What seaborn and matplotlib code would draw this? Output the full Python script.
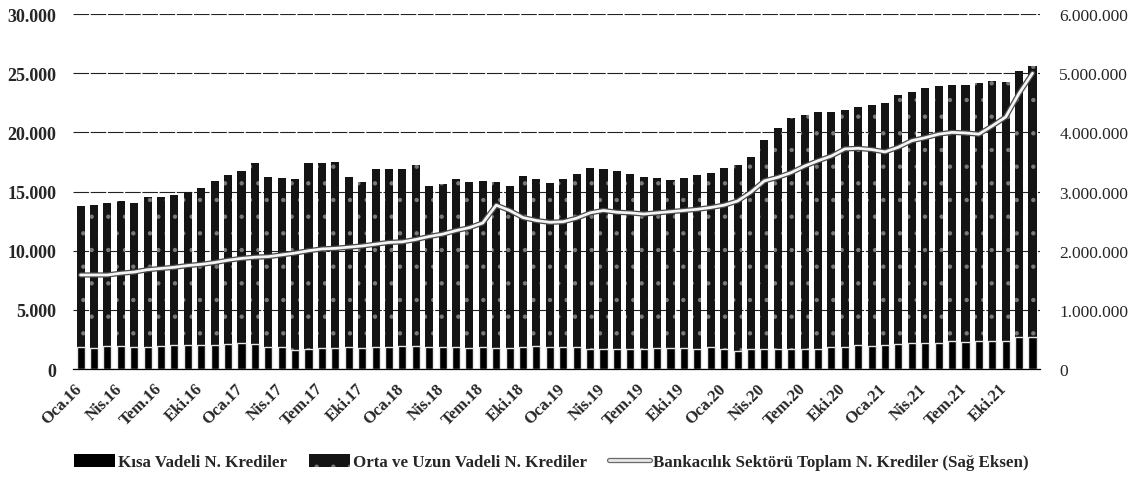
import matplotlib
matplotlib.use("Agg")
import matplotlib.pyplot as plt
import matplotlib.patheffects as pe
from matplotlib.patches import Patch
from matplotlib.lines import Line2D
from matplotlib.ticker import FuncFormatter, FixedLocator
import seaborn as sns
import pandas as pd
import numpy as np

# ---------------- data ----------------
months_tr = ["Oca", "Şub", "Mar", "Nis", "May", "Haz", "Tem", "Ağu", "Eyl", "Eki", "Kas", "Ara"]
years = ["16", "17", "18", "19", "20", "21"]
periods = [f"{m}.{y}" for y in years for m in months_tr]

# Kısa Vadeli N. Krediler (left axis)
kisa = [1830, 1780, 1940, 1940, 1890, 1890, 1940, 2000, 2060, 2060, 2060, 2100,
        2170, 2100, 1890, 1890, 1600, 1690, 1740, 1780, 1830, 1780, 1830, 1830,
        1940, 1940, 1830, 1890, 1830, 1780, 1890, 1780, 1780, 1890, 1940, 1890,
        1890, 1830, 1720, 1720, 1720, 1720, 1720, 1780, 1780, 1780, 1720, 1830,
        1660, 1550, 1660, 1720, 1720, 1660, 1720, 1720, 1830, 1830, 2060, 1940,
        2060, 2100, 2170, 2170, 2170, 2340, 2250, 2390, 2340, 2390, 2680, 2680]

# Orta ve Uzun Vadeli N. Krediler (left axis)
orta_uzun = [11920, 12080, 12090, 12230, 12140, 12680, 12630, 12700, 12930, 13210, 13800, 14330,
             14570, 15330, 14350, 14240, 14460, 15710, 15650, 15700, 14410, 13990, 15110, 15070,
             14940, 15300, 13670, 13730, 14230, 14000, 13990, 14000, 13720, 14400, 14120, 13870,
             14140, 14650, 15310, 15180, 15000, 14730, 14550, 14370, 14190, 14370, 14700, 14720,
             15300, 15690, 16300, 17640, 18640, 19570, 19780, 20040, 19930, 20080, 20120, 20360,
             20440, 21100, 21260, 21560, 21730, 21660, 21750, 21760, 21960, 21830, 22490, 22900]

# Bankacılık Sektörü Toplam N. Krediler (right axis)
toplam = [1590000, 1590000, 1590000, 1620000, 1640000, 1680000, 1700000, 1720000, 1750000, 1770000, 1800000, 1840000,
          1870000, 1890000, 1900000, 1930000, 1960000, 2000000, 2030000, 2040000, 2060000, 2080000, 2110000, 2140000,
          2150000, 2190000, 2240000, 2280000, 2340000, 2390000, 2470000, 2770000, 2680000, 2560000, 2510000, 2480000,
          2490000, 2550000, 2640000, 2680000, 2650000, 2640000, 2620000, 2640000, 2660000, 2680000, 2700000, 2730000,
          2770000, 2840000, 2990000, 3180000, 3240000, 3320000, 3430000, 3520000, 3600000, 3720000, 3730000, 3710000,
          3670000, 3750000, 3860000, 3910000, 3970000, 4000000, 3990000, 3970000, 4110000, 4260000, 4660000, 5000000]

left_ticks = [0, 5000, 10000, 15000, 20000, 25000, 30000]
right_ticks = [0, 1000000, 2000000, 3000000, 4000000, 5000000, 6000000]

lbl_kisa = "Kısa Vadeli N. Krediler"
lbl_orta = "Orta ve Uzun Vadeli N. Krediler"
lbl_top = "Bankacılık Sektörü Toplam N. Krediler (Sağ Eksen)"

df = pd.DataFrame({"donem": periods, "kisa": kisa, "orta": orta_uzun, "toplam": toplam})
df["pos"] = np.arange(len(df))
df["yigin"] = df["kisa"] + df["orta"]

# ---------------- style ----------------
sns.set_theme(style="white")
plt.rcParams["font.family"] = ["Liberation Serif", "DejaVu Serif"]
plt.rcParams["hatch.linewidth"] = 0.7

fig = plt.figure(figsize=(11.44, 4.85), dpi=100)
ax = fig.add_axes([0.064, 0.237, 0.845, 0.732])

bar_w = 0.6
dark = "#141414"
speck = "#7a7a7a"

# stacked: full stack (long-term on top) then short-term over it
sns.barplot(data=df, x="pos", y="yigin", color=dark, width=bar_w, ax=ax,
            saturation=1, order=list(df["pos"]), errorbar=None)
for p in ax.patches:
    p.set_hatch(".")
    p.set_edgecolor(speck)
    p.set_linewidth(0)
n_top = len(ax.patches)
sns.barplot(data=df, x="pos", y="kisa", color="black", width=bar_w, ax=ax,
            saturation=1, order=list(df["pos"]), errorbar=None)
for p in ax.patches[n_top:]:
    p.set_linewidth(1.0)
    p.set_edgecolor("#e6e6e6")

ax.set_ylim(0, 30000)
ax.set_xlim(-0.55, len(df) - 0.45)
ax.yaxis.set_major_locator(FixedLocator(left_ticks))
ax.yaxis.set_major_formatter(FuncFormatter(lambda v, _: f"{int(v):,}".replace(",", ".")))
ax.grid(axis="y", color="#222222", linewidth=0.8, linestyle=(0, (14, 1.5)))
ax.set_axisbelow(True)
for s in ["top", "right", "left"]:
    ax.spines[s].set_visible(False)
ax.spines["bottom"].set_color("black")
ax.spines["bottom"].set_linewidth(0.9)
ax.spines["bottom"].set_zorder(5)

# category ticks sit between bars (every 3rd month boundary), labels for the quarter's first month
xt = list(range(0, len(df), 3))
ax.set_xticks([i - 0.5 for i in xt])
ax.set_xticklabels([periods[i] for i in xt], rotation=45, ha="right",
                   rotation_mode="anchor", fontsize=12, fontweight="bold")
ax.set_xticks([len(df) - 0.5], minor=True)
ax.tick_params(axis="x", which="both", direction="in", length=4, color="black", width=0.8, pad=8)
ax.tick_params(axis="y", length=0, pad=12, labelsize=13)
for t in ax.get_yticklabels():
    t.set_fontweight("bold")
ax.set_xlabel("")
ax.set_ylabel("")

# right axis line
ax2 = ax.twinx()
sns.lineplot(data=df, x="pos", y="toplam", ax=ax2, color="#f4f4f4", linewidth=2.0,
             path_effects=[pe.Stroke(linewidth=3.8, foreground="#4a4a4a"), pe.Normal()])
ax2.set_ylim(0, 6000000)
ax2.yaxis.set_major_locator(FixedLocator(right_ticks))
ax2.yaxis.set_major_formatter(FuncFormatter(lambda v, _: f"{int(v):,}".replace(",", ".")))
ax2.tick_params(axis="y", length=0, pad=14, labelsize=12.5)
for s in ["top", "right", "left", "bottom"]:
    ax2.spines[s].set_visible(False)
ax2.set_ylabel("")
ax2.set_xlabel("")
ax2.grid(False)
ax2.set_xlim(ax.get_xlim())

handles = [
    Patch(facecolor="black", edgecolor="black", linewidth=0),
    Patch(facecolor=dark, hatch=".", edgecolor=speck, linewidth=0),
    Line2D([0], [0], color="#e8e8e8", linewidth=2.0,
           path_effects=[pe.Stroke(linewidth=3.8, foreground="#6a6a6a"), pe.Normal()]),
]
fig.legend(handles, [lbl_kisa, lbl_orta, lbl_top], loc="center", bbox_to_anchor=(0.482, 0.045),
           ncol=3, frameon=False, prop={"weight": "bold", "size": 12.2},
           handlelength=2.4, handleheight=0.75, handletextpad=0.2, columnspacing=1.3)

fig.savefig("out.png", dpi=100)
